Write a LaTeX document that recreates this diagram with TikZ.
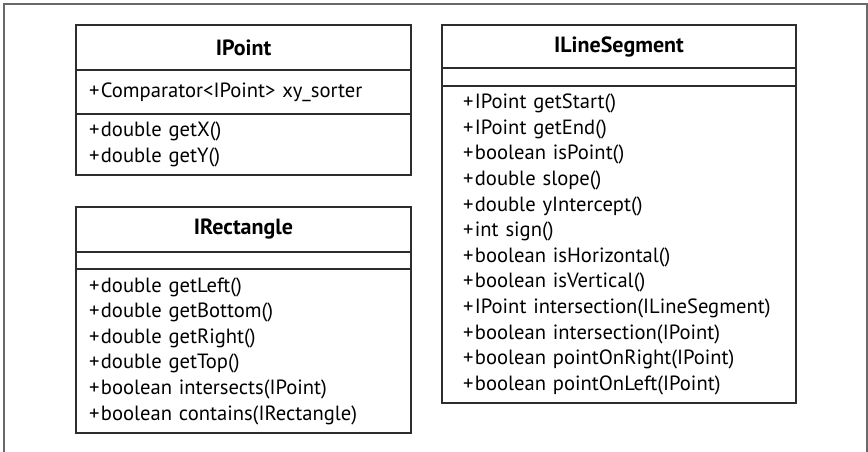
\documentclass[tikz,border=0pt]{standalone}
\usepackage{fontspec}
\setmainfont{PT Sans}[WordSpace=0.7]
\usetikzlibrary{positioning}

\definecolor{framegray}{RGB}{105,105,105}
\definecolor{boxline}{RGB}{45,45,45}

\newcommand{\pub}{+\kern1.5pt}
\hyphenpenalty=10000

\tikzset{
  cls/.style={draw=boxline, line width=1.3pt, anchor=north, inner ysep=0pt, outer sep=0pt},
  clstitle/.style={cls, font=\fontsize{22}{25}\selectfont\bfseries},
  clsbody/.style={cls, font=\fontsize{20.6}{25.6}\selectfont, align=left},
  narrowcls/.style={inner xsep=13pt, text width=309pt},
  widecls/.style={inner xsep=21pt, text width=312pt}
}

\begin{document}
\begin{tikzpicture}[x=1pt, y=-1pt]

  % outer frame (bottom edge cut off)
  \draw[framegray, line width=1.5pt] (4,452) -- (4,4) -- (867,4) -- (867,452);

  %% IPoint
  \node[clstitle, narrowcls, align=center, minimum height=45pt] (ipointT) at (243.5,25) {IPoint};
  \node[clsbody, narrowcls, minimum height=44pt, below=0pt of ipointT] (ipointA)
    {\pub Comparator<IPoint> xy\_sorter};
  \node[clsbody, narrowcls, minimum height=61pt, below=0pt of ipointA] (ipointM)
    {\pub double getX()\\ \pub double getY()};

  %% IRectangle
  \node[clstitle, narrowcls, align=center, minimum height=45pt] (irectT) at (243.5,207) {IRectangle};
  \node[clsbody, narrowcls, minimum height=17pt, below=0pt of irectT] (irectA) {};
  \node[clsbody, narrowcls, minimum height=164pt, below=0pt of irectA] (irectM)
    {\pub double getLeft()\\ \pub double getBottom()\\ \pub double getRight()\\ \pub double getTop()\\
     \pub boolean intersects(IPoint)\\ \pub boolean contains(IRectangle)};

  %% ILineSegment
  \node[clstitle, widecls, align=center, minimum height=43pt] (ilineT) at (619,25) {ILineSegment};
  \node[clsbody, widecls, minimum height=18pt, below=0pt of ilineT] (ilineA) {};
  \node[clsbody, widecls, minimum height=317pt, below=0pt of ilineA] (ilineM)
    {\pub IPoint getStart()\\ \pub IPoint getEnd()\\ \pub boolean isPoint()\\ \pub double slope()\\
     \pub double yIntercept()\\ \pub int sign()\\ \pub boolean isHorizontal()\\ \pub boolean isVertical()\\
     \pub IPoint intersection(ILineSegment)\\ \pub boolean intersection(IPoint)\\
     \pub boolean pointOnRight(IPoint)\\ \pub boolean pointOnLeft(IPoint)};

  \pgfresetboundingbox
  \path[use as bounding box] (0,0) rectangle (868,452);
\end{tikzpicture}
\end{document}
